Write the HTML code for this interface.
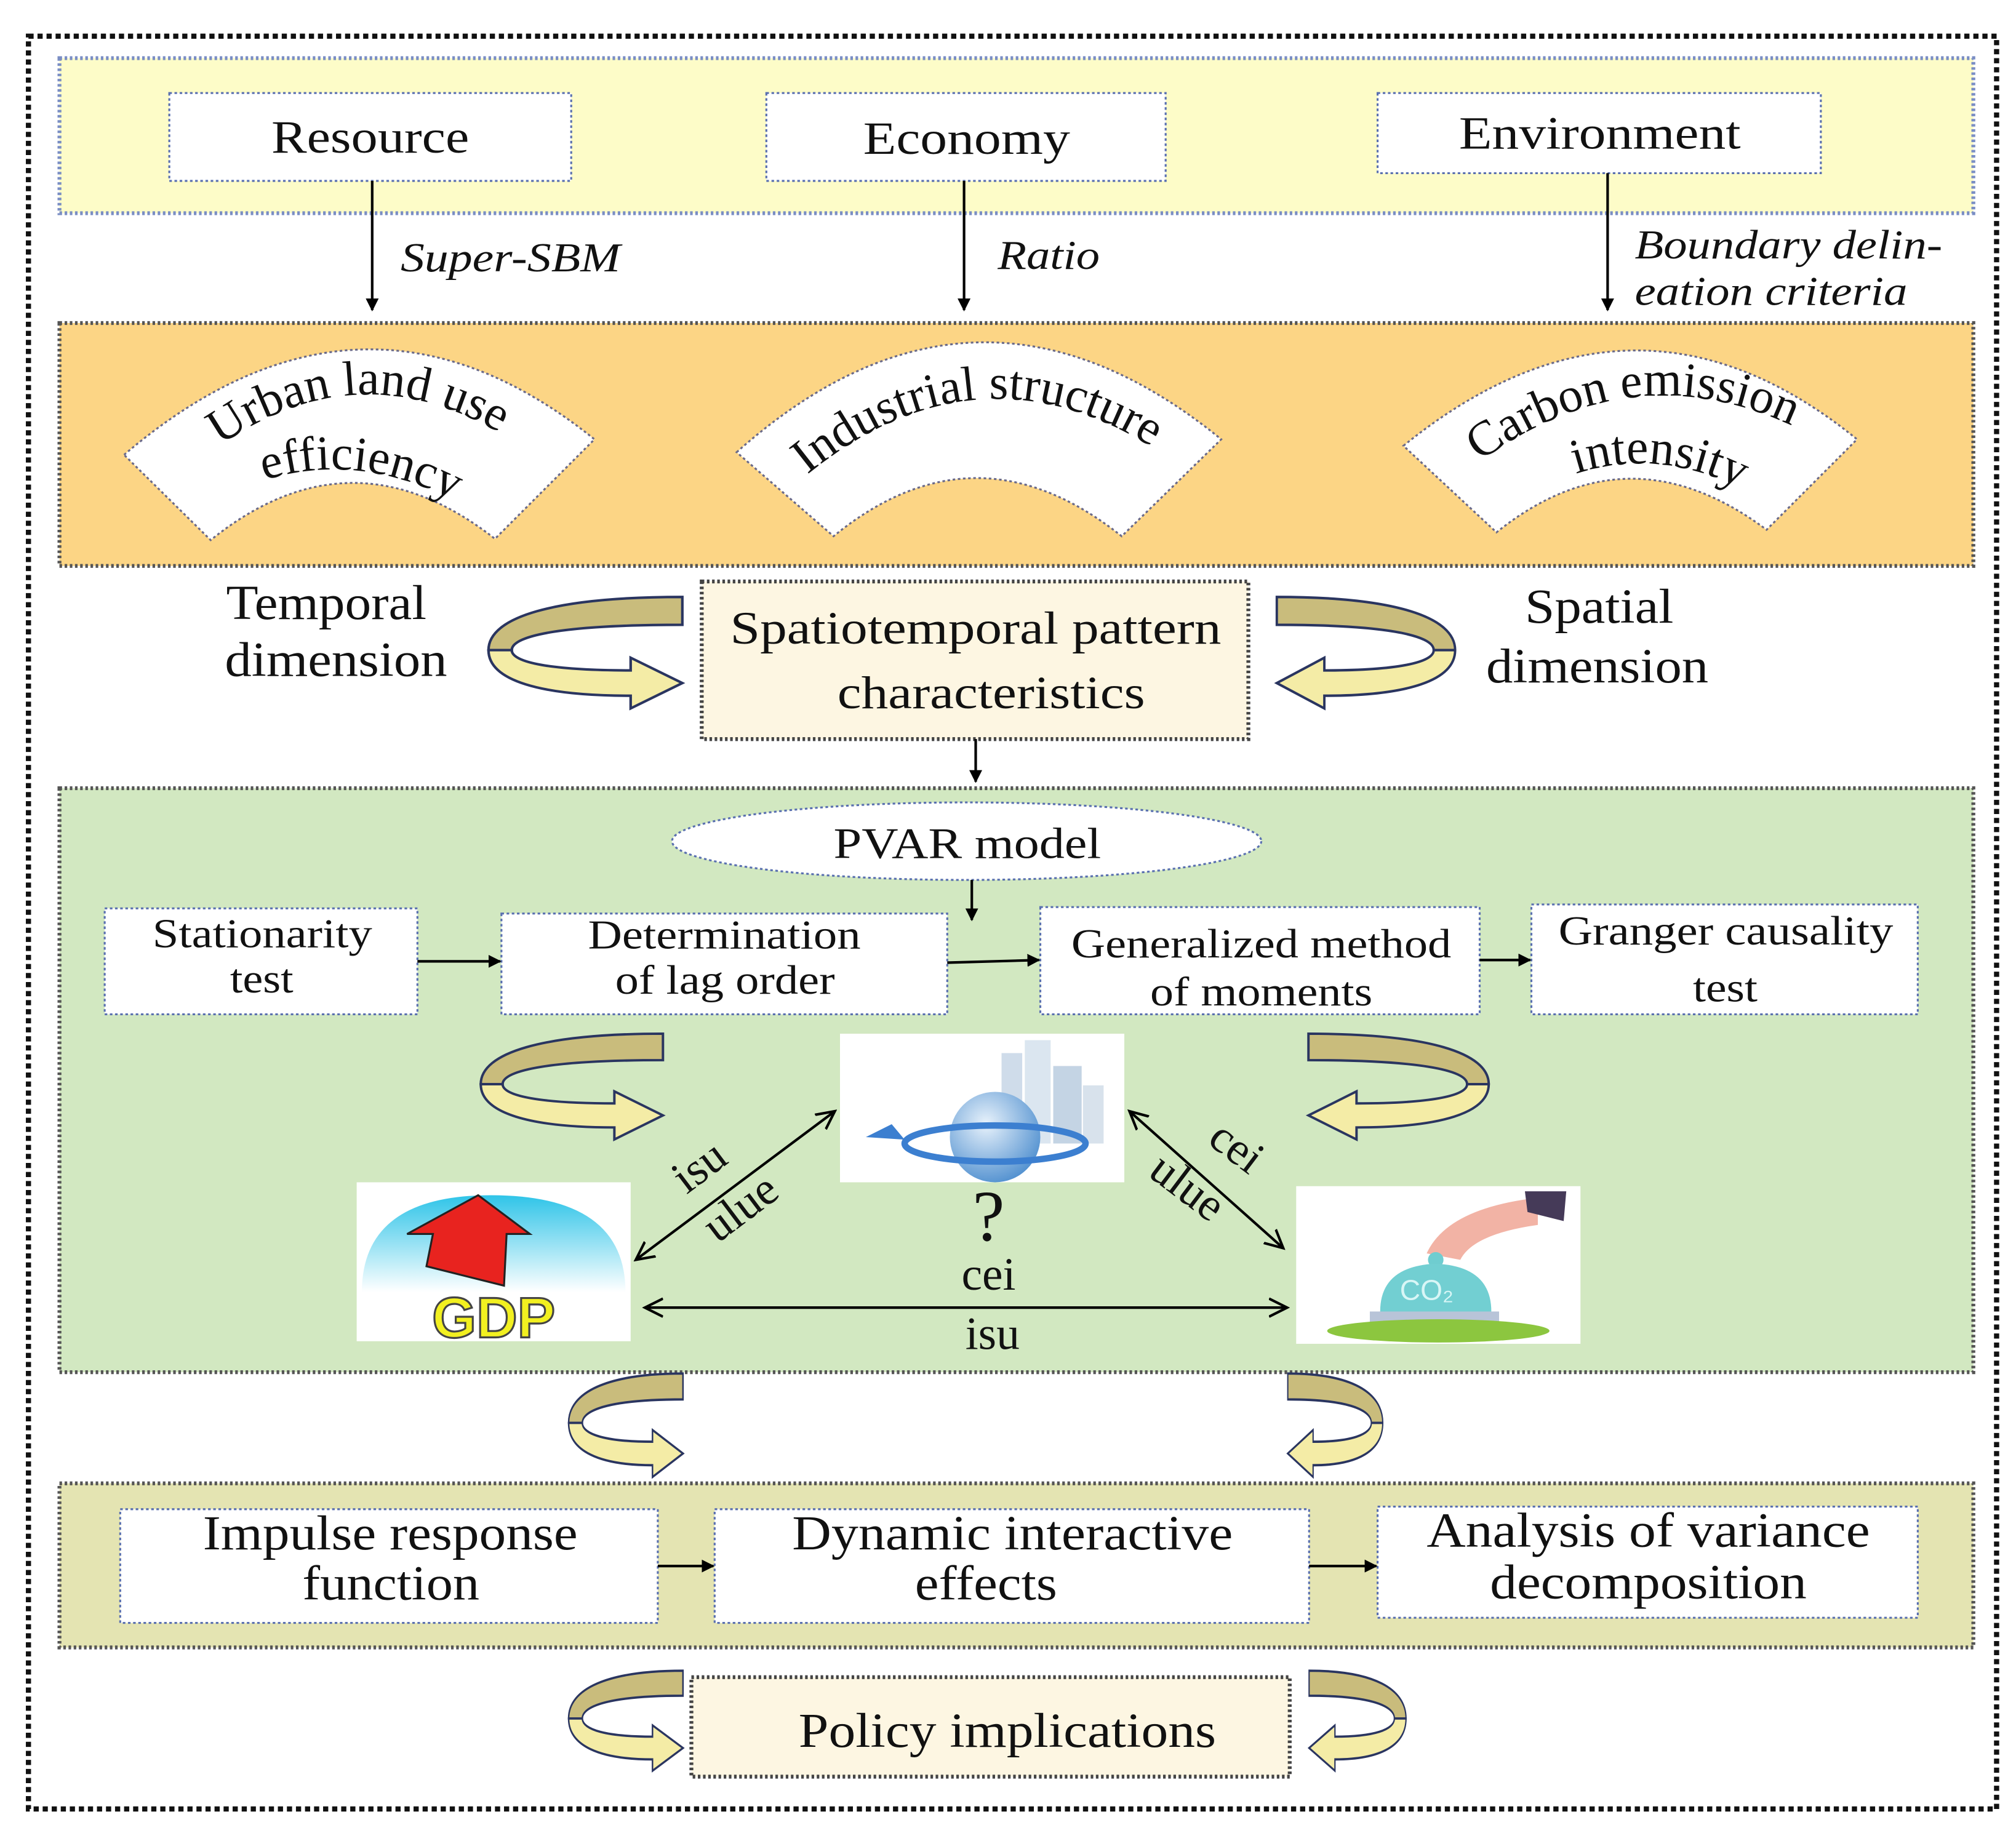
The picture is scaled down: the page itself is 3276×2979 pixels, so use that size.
<!DOCTYPE html>
<html><head><meta charset="utf-8"><style>
html,body{margin:0;padding:0;background:#fff;}
svg{display:block;}
text{font-family:"Liberation Serif","Times New Roman",Times,serif;fill:#111;}
</style></head><body>
<svg width="3276" height="2979" viewBox="0 0 1560 1418.6" xmlns="http://www.w3.org/2000/svg">
<defs>
<marker id="ah" markerWidth="10" markerHeight="10" refX="9" refY="5" orient="auto" markerUnits="userSpaceOnUse"><path d="M0,0 L10,5 L0,10 Z" fill="#000"/></marker>
<marker id="oh" markerWidth="16" markerHeight="16" refX="14" refY="8" orient="auto-start-reverse" markerUnits="userSpaceOnUse"><path d="M0,1 L14,8 L0,15" fill="none" stroke="#000" stroke-width="2"/></marker>
<g id="rib">
<path d="M150,0 L150,22 C60,22 18,30 18,42 L0,42 C0,16 50,0 150,0 Z" fill="#c9bc7c" stroke="#2a3560" stroke-width="2"/>
<path d="M0,42 L18,42 C18,52 50,58 110,58 L110,48 L150,68 L110,88 L110,78 C40,78 0,66 0,42 Z" fill="#f4eca6" stroke="#2a3560" stroke-width="2"/>
</g>
<radialGradient id="glb" cx="0.4" cy="0.35" r="0.7"><stop offset="0" stop-color="#e8f2fb"/><stop offset="1" stop-color="#4f8fcf"/></radialGradient>
<linearGradient id="sky" x1="0" y1="0" x2="0" y2="1"><stop offset="0" stop-color="#2fc4e8"/><stop offset="1" stop-color="#ffffff"/></linearGradient>
</defs>

<rect x="22" y="28" width="1523" height="1372" fill="none" stroke="#111" stroke-width="4" stroke-dasharray="4,3"/>

<rect x="46" y="45" width="1481" height="120" fill="#fdfcc8" stroke="#7a8ec4" stroke-width="3" stroke-dasharray="2,2"/>
<g fill="#fff" stroke="#5a70b0" stroke-width="1.5" stroke-dasharray="2,2">
<rect x="131" y="72" width="311" height="68"/>
<rect x="593" y="72" width="309" height="68"/>
<rect x="1066" y="72" width="343" height="62"/>
</g>
<g font-size="36" lengthAdjust="spacingAndGlyphs">
<text x="210" y="118" textLength="153" lengthAdjust="spacingAndGlyphs">Resource</text>
<text x="668" y="119" textLength="160" lengthAdjust="spacingAndGlyphs">Economy</text>
<text x="1129" y="115" textLength="218" lengthAdjust="spacingAndGlyphs">Environment</text>
</g>
<g stroke="#000" stroke-width="2" marker-end="url(#ah)">
<line x1="288" y1="140" x2="288" y2="240"/>
<line x1="746" y1="140" x2="746" y2="240"/>
<line x1="1244" y1="134" x2="1244" y2="240"/>
</g>
<g font-size="32" font-style="italic">
<text x="310" y="210" textLength="170" lengthAdjust="spacingAndGlyphs">Super-SBM</text>
<text x="772" y="208" textLength="79" lengthAdjust="spacingAndGlyphs">Ratio</text>
<text x="1265" y="200" textLength="238" lengthAdjust="spacingAndGlyphs">Boundary delin-</text>
<text x="1265" y="236" textLength="211" lengthAdjust="spacingAndGlyphs">eation criteria</text>
</g>

<rect x="46" y="250" width="1481" height="188" fill="#fcd585" stroke="#555" stroke-width="3" stroke-dasharray="2,2"/>
<g fill="#fff" stroke="#6a6a8a" stroke-width="1.5" stroke-dasharray="2,2">
<path d="M96,352 Q280,195 460,340 L383,417 Q272,330 163,418 Z"/>
<path d="M570,350 Q755,185 945,340 L868,415 Q755,325 645,415 Z"/>
<path d="M1086,345 Q1265,200 1437,340 L1367,410 Q1260,330 1158,412 Z"/>
</g>
<path id="a1" d="M148,362 Q275,255 410,350" fill="none"/>
<path id="a1b" d="M195,375 Q275,345 360,392" fill="none"/>
<path id="a2" d="M612,378 Q755,252 905,355" fill="none"/>
<path id="a3" d="M1135,365 Q1262,265 1398,335" fill="none"/>
<path id="a3b" d="M1205,372 Q1282,340 1360,385" fill="none"/>
<g font-size="38">
<text><textPath href="#a1" startOffset="50%" text-anchor="middle">Urban  land  use</textPath></text>
<text><textPath href="#a1b" startOffset="50%" text-anchor="middle">efficiency</textPath></text>
<text><textPath href="#a2" startOffset="50%" text-anchor="middle">Industrial structure</textPath></text>
<text><textPath href="#a3" startOffset="50%" text-anchor="middle">Carbon emission</textPath></text>
<text><textPath href="#a3b" startOffset="50%" text-anchor="middle">intensity</textPath></text>
</g>

<g font-size="38">
<text x="175" y="479" textLength="155" lengthAdjust="spacingAndGlyphs">Temporal</text>
<text x="174" y="523" textLength="172" lengthAdjust="spacingAndGlyphs">dimension</text>
<text x="1180" y="482" textLength="115" lengthAdjust="spacingAndGlyphs">Spatial</text>
<text x="1150" y="528" textLength="172" lengthAdjust="spacingAndGlyphs">dimension</text>
</g>
<use href="#rib" transform="translate(378,462) scale(1,0.98)"/>
<use href="#rib" transform="translate(1126,462) scale(-0.92,0.98)"/>
<rect x="543" y="450" width="423" height="122" fill="#fdf6e2" stroke="#444" stroke-width="3" stroke-dasharray="2,2"/>
<g font-size="36">
<text x="565" y="498" textLength="380" lengthAdjust="spacingAndGlyphs">Spatiotemporal pattern</text>
<text x="648" y="548" textLength="238" lengthAdjust="spacingAndGlyphs">characteristics</text>
</g>
<line x1="755" y1="572" x2="755" y2="605" stroke="#000" stroke-width="2" marker-end="url(#ah)"/>

<rect x="46" y="610" width="1481" height="452" fill="#d2e8c1" stroke="#555" stroke-width="3" stroke-dasharray="2,2"/>
<ellipse cx="748" cy="651" rx="228" ry="30" fill="#fff" stroke="#5a70b0" stroke-width="1.5" stroke-dasharray="2,2"/>
<text x="645" y="664" font-size="34" textLength="207" lengthAdjust="spacingAndGlyphs">PVAR model</text>
<line x1="752" y1="681" x2="752" y2="712" stroke="#000" stroke-width="2" marker-end="url(#ah)"/>
<g fill="#fff" stroke="#5a70b0" stroke-width="1.5" stroke-dasharray="2,2">
<rect x="81" y="703" width="242" height="82"/>
<rect x="388" y="707" width="345" height="78"/>
<rect x="805" y="702" width="340" height="83"/>
<rect x="1185" y="700" width="299" height="85"/>
</g>
<g font-size="32">
<text x="118" y="733" textLength="170" lengthAdjust="spacingAndGlyphs">Stationarity</text>
<text x="178" y="768" textLength="49" lengthAdjust="spacingAndGlyphs">test</text>
<text x="455" y="734" textLength="211" lengthAdjust="spacingAndGlyphs">Determination</text>
<text x="476" y="769" textLength="170" lengthAdjust="spacingAndGlyphs">of lag order</text>
<text x="829" y="741" textLength="294" lengthAdjust="spacingAndGlyphs">Generalized method</text>
<text x="890" y="778" textLength="172" lengthAdjust="spacingAndGlyphs">of moments</text>
<text x="1206" y="731" textLength="259" lengthAdjust="spacingAndGlyphs">Granger causality</text>
<text x="1310" y="775" textLength="50" lengthAdjust="spacingAndGlyphs">test</text>
</g>
<g stroke="#000" stroke-width="2" marker-end="url(#ah)">
<line x1="323" y1="744" x2="387" y2="744"/>
<line x1="733" y1="745" x2="804" y2="743"/>
<line x1="1145" y1="743" x2="1184" y2="743"/>
</g>
<use href="#rib" transform="translate(372,800) scale(0.94,0.93)"/>
<use href="#rib" transform="translate(1152,800) scale(-0.93,0.93)"/>

<rect x="650" y="800" width="220" height="115" fill="#fff"/>
<g>
<rect x="775" y="815" width="16" height="70" fill="#cfdcea"/>
<rect x="793" y="805" width="20" height="80" fill="#dbe6f0"/>
<rect x="815" y="825" width="22" height="60" fill="#c4d4e4"/>
<rect x="838" y="840" width="16" height="45" fill="#d8e2ec"/>
<circle cx="770" cy="880" r="35" fill="url(#glb)"/>
<ellipse cx="770" cy="885" rx="70" ry="14" fill="none" stroke="#3c7fd0" stroke-width="5"/>
<path d="M700,882 L670,880 L690,870 Z" fill="#3c7fd0"/>
</g>
<rect x="276" y="915" width="212" height="123" fill="#fff"/>
<path d="M280,1000 Q280,925 380,925 Q484,925 484,1000 Z" fill="url(#sky)"/>
<path d="M330,980 L335,955 L315,955 L370,925 L410,955 L392,955 L390,995 Z" fill="#e8231f" stroke="#222" stroke-width="1.5"/>
<text x="382" y="1035" font-size="44" font-weight="bold" text-anchor="middle" style="fill:#f2f020;stroke:#444;stroke-width:1.5;font-family:'Liberation Sans',sans-serif">GDP</text>
<rect x="1003" y="918" width="220" height="122" fill="#fff"/>
<path d="M1104,970 Q1120,935 1190,927 L1190,948 Q1140,955 1130,975 Z" fill="#f2b3a5"/>
<path d="M1180,922 L1212,922 L1210,945 L1182,938 Z" fill="#453a58"/>
<circle cx="1111" cy="975" r="6" fill="#6fcdd0"/>
<path d="M1068,1015 Q1068,980 1111,978 Q1154,980 1154,1015 Z" fill="#72cfd2"/>
<text x="1104" y="1006" font-size="22" text-anchor="middle" style="fill:#d8f6f6;font-family:'Liberation Sans',sans-serif">CO₂</text>
<rect x="1060" y="1015" width="100" height="12" fill="#b8c4d8"/>
<ellipse cx="1113" cy="1030" rx="86" ry="9" fill="#8cc63f"/>

<g stroke="#000" stroke-width="2" marker-start="url(#oh)" marker-end="url(#oh)" fill="none">
<line x1="492" y1="975" x2="646" y2="860"/>
<line x1="874" y1="860" x2="993" y2="966"/>
<line x1="499" y1="1012" x2="996" y2="1012"/>
</g>
<g font-size="36" text-anchor="middle">
<text transform="translate(548,912) rotate(-37)">isu</text>
<text transform="translate(580,944) rotate(-37)">ulue</text>
<text transform="translate(950,897) rotate(37)">cei</text>
<text transform="translate(912,928) rotate(37)">ulue</text>
<text x="765" y="960" font-size="56">?</text>
<text x="765" y="998">cei</text>
<text x="768" y="1044">isu</text>
</g>

<use href="#rib" transform="translate(440,1063) scale(0.59,0.91)"/>
<use href="#rib" transform="translate(1070,1063) scale(-0.49,0.91)"/>

<rect x="46" y="1148" width="1481" height="127" fill="#e4e4b2" stroke="#555" stroke-width="3" stroke-dasharray="2,2"/>
<g fill="#fff" stroke="#5a70b0" stroke-width="1.5" stroke-dasharray="2,2">
<rect x="93" y="1168" width="416" height="88"/>
<rect x="553" y="1168" width="460" height="88"/>
<rect x="1066" y="1166" width="418" height="86"/>
</g>
<g font-size="38">
<text x="157" y="1199" textLength="290" lengthAdjust="spacingAndGlyphs">Impulse response</text>
<text x="234" y="1238" textLength="137" lengthAdjust="spacingAndGlyphs">function</text>
<text x="613" y="1199" textLength="341" lengthAdjust="spacingAndGlyphs">Dynamic interactive</text>
<text x="708" y="1238" textLength="110" lengthAdjust="spacingAndGlyphs">effects</text>
<text x="1104" y="1197" textLength="343" lengthAdjust="spacingAndGlyphs">Analysis of variance</text>
<text x="1153" y="1237" textLength="245" lengthAdjust="spacingAndGlyphs">decomposition</text>
</g>
<g stroke="#000" stroke-width="2" marker-end="url(#ah)">
<line x1="509" y1="1212" x2="552" y2="1212"/>
<line x1="1013" y1="1212" x2="1065" y2="1212"/>
</g>

<use href="#rib" transform="translate(440,1293) scale(0.59,0.88)"/>
<use href="#rib" transform="translate(1088,1293) scale(-0.5,0.88)"/>
<rect x="535" y="1298" width="463" height="77" fill="#fdf6e2" stroke="#444" stroke-width="3" stroke-dasharray="2,2"/>
<text x="618" y="1352" font-size="38" textLength="323" lengthAdjust="spacingAndGlyphs">Policy implications</text>
</svg>
</body></html>
